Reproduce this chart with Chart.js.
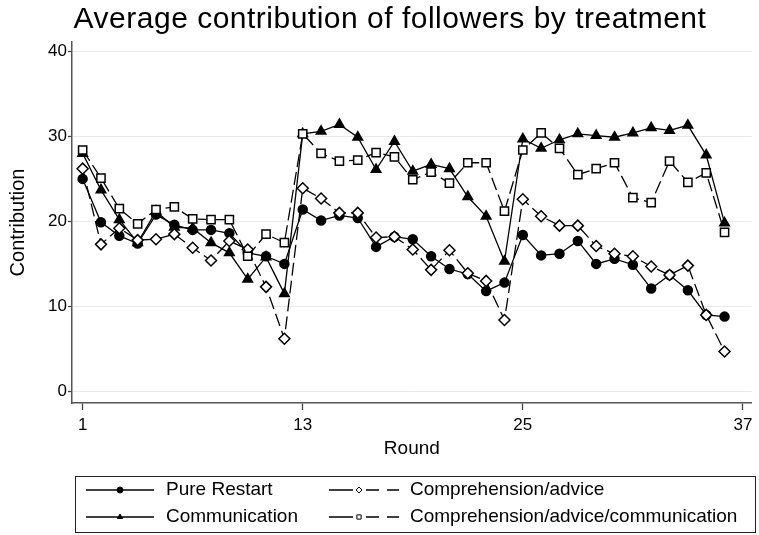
<!DOCTYPE html>
<html><head><meta charset="utf-8">
<script src="https://cdn.jsdelivr.net/npm/chart.js@4.4.1/dist/chart.umd.min.js"></script>
<style>html,body{margin:0;padding:0;background:#fff;}#wrap{width:759px;height:535px;}</style>
</head><body><div id="wrap"><canvas id="c" width="759" height="535"></canvas></div>
<script>
const rounds = [1,2,3,4,5,6,7,8,9,10,11,12,13,14,15,16,17,18,19,20,21,22,23,24,25,26,27,28,29,30,31,32,33,34,35,36];
const pureRestart = [25.0,19.9,18.3,17.4,20.8,19.6,19.0,19.0,18.6,16.3,15.9,15.0,21.4,20.1,20.7,20.4,17.0,18.2,17.9,15.9,14.4,13.8,11.8,12.8,18.4,16.0,16.2,17.7,15.0,15.6,14.9,12.1,13.7,11.9,9.0,8.8];
const communication = [28.0,23.7,20.2,17.5,21.2,19.3,19.2,17.5,16.3,13.2,15.8,11.5,30.3,30.6,31.4,29.9,26.1,29.4,25.9,26.7,26.2,22.9,20.6,15.3,29.7,28.6,29.6,30.3,30.1,29.9,30.4,31.0,30.7,31.3,27.8,19.8];
const comprehensionAdvice = [26.2,17.3,19.2,17.8,17.9,18.5,16.9,15.4,17.7,16.7,12.3,6.2,23.9,22.7,21.0,21.0,18.1,18.2,16.7,14.3,16.6,13.9,13.0,8.4,22.6,20.6,19.5,19.5,17.1,16.2,15.9,14.7,13.7,14.8,9.0,4.7];
const comprehensionAdviceComm = [28.4,25.1,21.5,19.7,21.4,21.7,20.3,20.2,20.2,15.9,18.5,17.5,30.3,28.0,27.1,27.2,28.1,27.6,24.9,25.8,24.5,26.9,26.9,21.2,28.4,30.4,28.6,25.5,26.2,26.9,22.8,22.2,27.1,24.6,25.7,18.7];
const seriesNames = ['Pure Restart','Communication','Comprehension/advice','Comprehension/advice/communication'];
const xTicks = [1,13,25,37];
const yTicks = [0,10,20,30,40];
const titleText = 'Average contribution of followers by treatment';
const xTitle = 'Round';
const yTitle = 'Contribution';

const FONT = "'Liberation Sans', Arial, Helvetica, sans-serif";
const pts = arr => rounds.map((r,i)=>({x:r,y:arr[i]}));

const styles = [
  {pointStyle:'circle', radius:4.5, fill:'#000', dash:[]},
  {pointStyle:'triangle', radius:5.5, fill:'#000', dash:[]},
  {pointStyle:'rectRot', radius:5.5, fill:'#fff', dash:[13,5]},
  {pointStyle:'rect', radius:5.8, fill:'#fff', dash:[13,5]}
];
const allSeries = [pureRestart, communication, comprehensionAdvice, comprehensionAdviceComm];
const datasets = allSeries.map((arr,i)=>({
  label: seriesNames[i],
  data: pts(arr),
  borderColor:'#000',
  borderWidth:1.3,
  borderDash: styles[i].dash,
  backgroundColor: styles[i].fill,
  pointStyle: styles[i].pointStyle,
  pointRadius: styles[i].radius,
  pointBackgroundColor: styles[i].fill,
  pointBorderColor:'#000',
  pointBorderWidth:1.5,
  tension:0,
  order: 3-i
}));

const titleAndLegend = {
  id:'titleAndLegend',
  afterDraw(chart){
    const ctx = chart.ctx;
    ctx.save();
    // title
    ctx.fillStyle='#000';
    ctx.font = '30px ' + FONT;
    try { ctx.letterSpacing = '0.5px'; } catch(e) {}
    ctx.textAlign='center'; ctx.textBaseline='alphabetic';
    ctx.fillText(titleText, 390, 28);
    try { ctx.letterSpacing = '0px'; } catch(e) {}
    // legend box
    ctx.strokeStyle='#222'; ctx.lineWidth=1;
    ctx.setLineDash([]);
    ctx.strokeRect(75.5,476.5,680,56);
    const slots = [[86,154,166,490],[86,154,166,517],[329,399,410,490],[329,399,410,517]];
    for (let i=0;i<4;i++){
      const [x0,x1,tx,y] = slots[i];
      const st = styles[i];
      ctx.strokeStyle='#000'; ctx.lineWidth=1.3;
      let mx;
      ctx.beginPath();
      if (st.dash.length){
        mx = x0+30;
        ctx.moveTo(x0,y); ctx.lineTo(x0+24,y);
        ctx.moveTo(x0+37,y); ctx.lineTo(x0+50,y);
        ctx.moveTo(x0+58,y); ctx.lineTo(x1,y);
      } else {
        mx = (x0+x1)/2;
        ctx.moveTo(x0,y); ctx.lineTo(x1,y);
      }
      ctx.stroke();
      ctx.fillStyle = st.fill; ctx.strokeStyle='#000'; ctx.lineWidth=1;
      Chart.helpers.drawPoint(ctx,{pointStyle:st.pointStyle, radius:3, borderWidth:1, rotation:0}, mx, y);
      ctx.fillStyle='#000';
      ctx.font = '19px ' + FONT;
      ctx.textBaseline='middle'; ctx.textAlign='left';
      ctx.fillText(seriesNames[i], tx, y);
    }
    ctx.restore();
  }
};

new Chart(document.getElementById('c'), {
  type:'line',
  data:{datasets},
  plugins:[titleAndLegend],
  options:{
    responsive:false,
    animation:false,
    devicePixelRatio:1,
    layout:{padding:{left:0,right:2,top:42,bottom:75}},
    plugins:{
      legend:{display:false},
      tooltip:{enabled:false},
      title:{display:false}
    },
    scales:{
      x:{
        type:'linear', min:0.42, max:37.48,
        afterBuildTicks:s=>{s.ticks = xTicks.map(v=>({value:v}));},
        afterFit:s=>{s.height=57; s.paddingRight=0; s.paddingLeft=0;},
        grid:{drawOnChartArea:false, drawTicks:true, tickLength:7, tickColor:'#444', tickWidth:1.3},
        border:{display:true,color:'#555',width:1.5},
        ticks:{font:{family:FONT,size:17},color:'#000',padding:5,maxRotation:0,autoSkip:false},
        title:{display:true,text:xTitle,color:'#000',font:{family:FONT,size:19},padding:{top:0,bottom:0}}
      },
      y:{
        min:-1.36, max:41.1,
        afterBuildTicks:s=>{s.ticks = yTicks.map(v=>({value:v}));},
        afterFit:s=>{s.width=72; s.paddingTop=0; s.paddingBottom=0;},
        grid:{color:'#e8e8e8',lineWidth:1,drawTicks:true,tickLength:4,tickColor:'#444',tickWidth:1.3},
        border:{display:true,color:'#555',width:1.5},
        ticks:{font:{family:FONT,size:17},color:'#000',padding:1},
        title:{display:true,text:yTitle,color:'#000',font:{family:FONT,size:20},padding:{top:6,bottom:0}}
      }
    }
  }
});
</script></body></html>
